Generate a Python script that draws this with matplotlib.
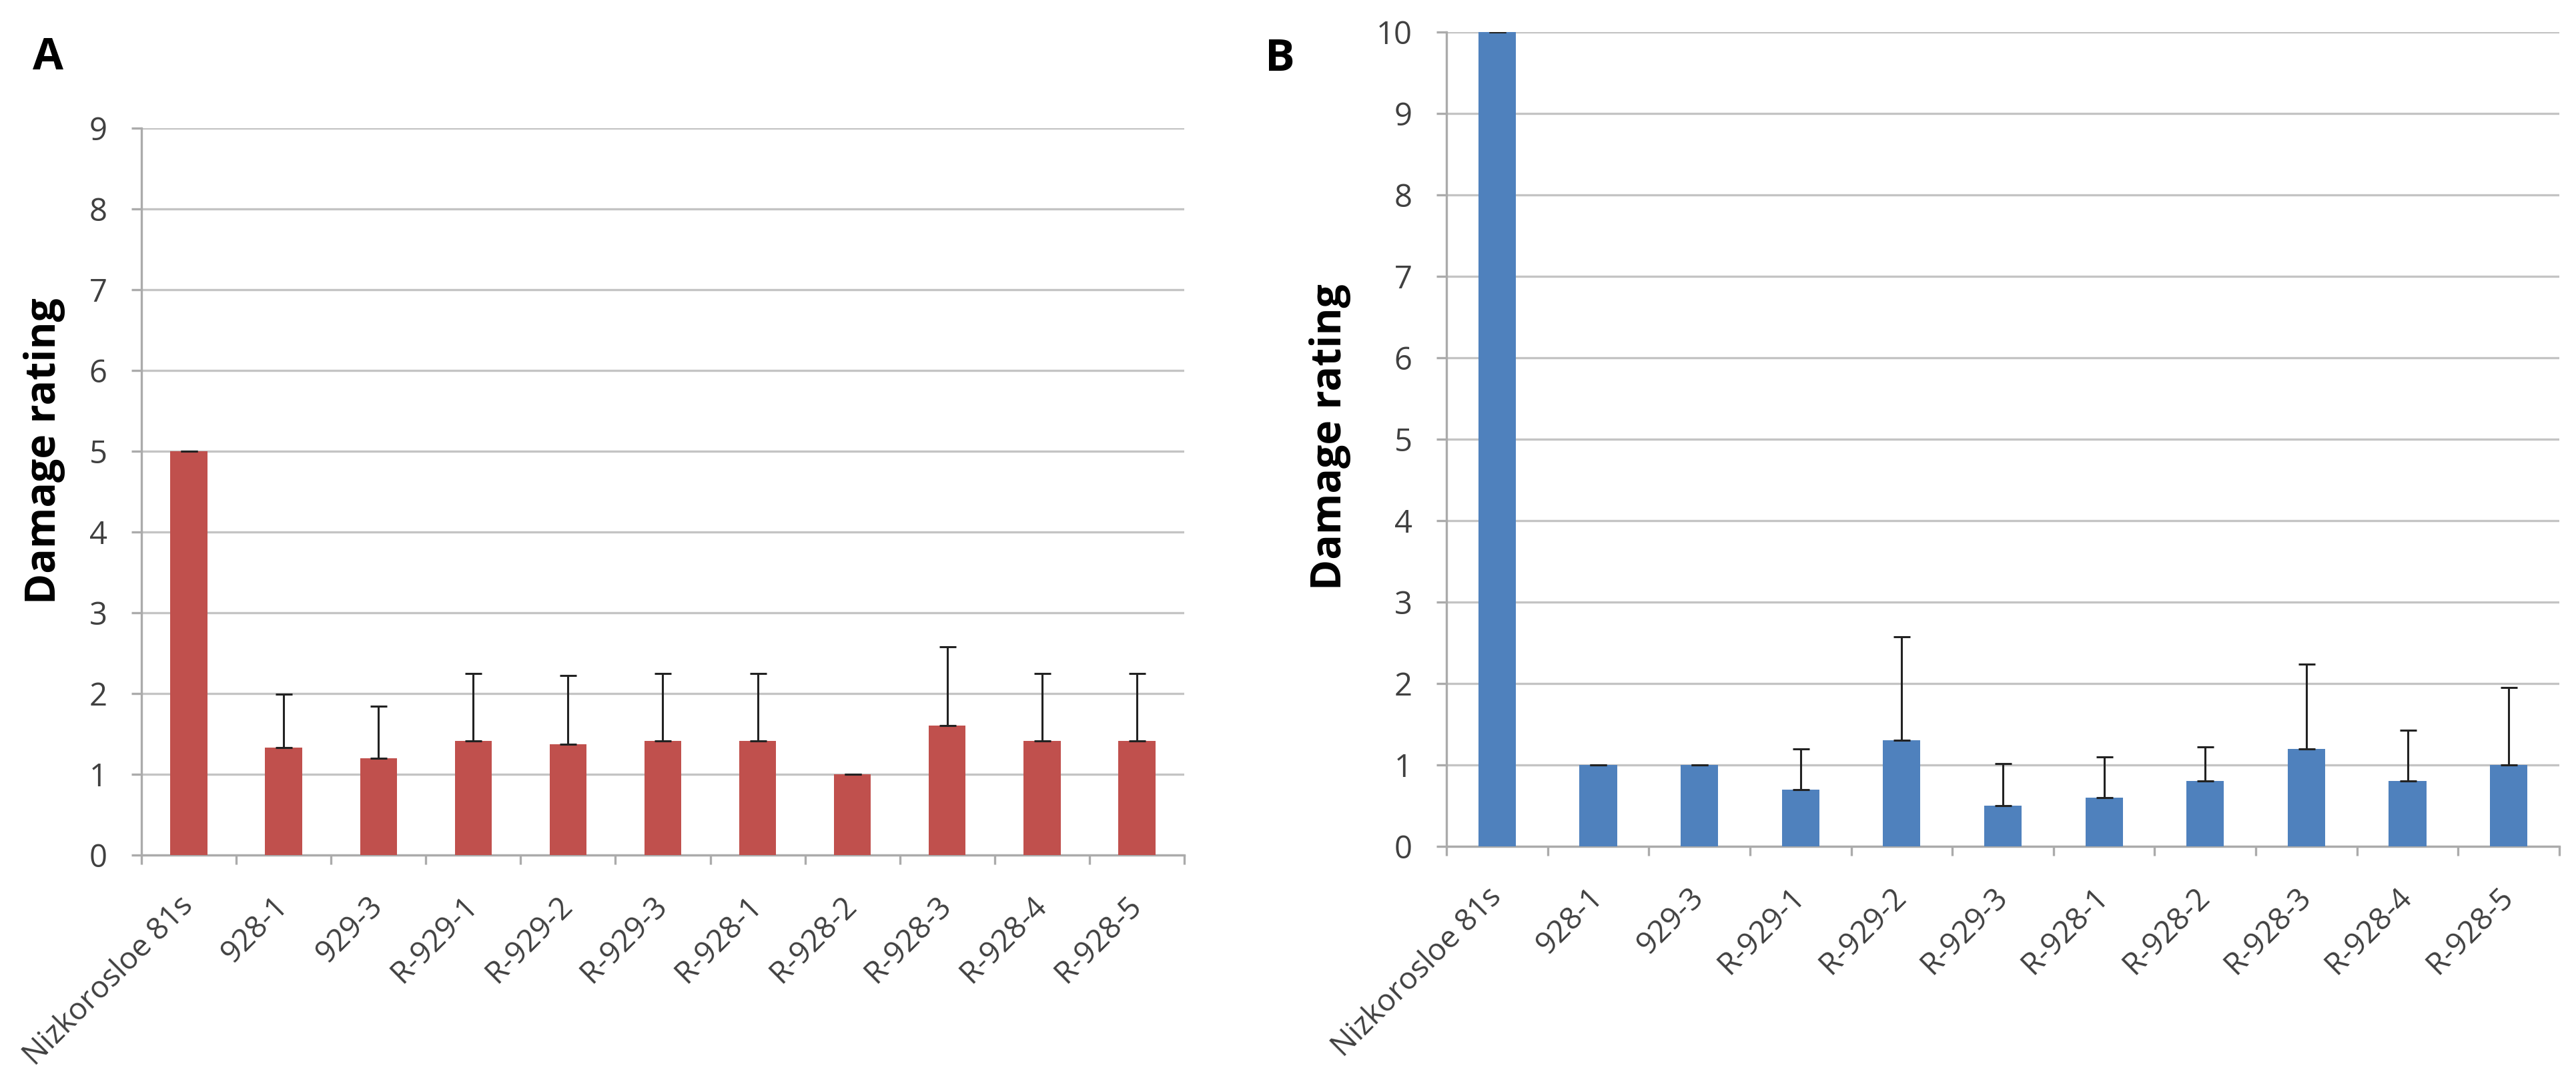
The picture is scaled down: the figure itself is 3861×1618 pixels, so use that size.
import matplotlib
matplotlib.use("Agg")
import matplotlib.pyplot as plt
import numpy as np

categories = ["Nizkorosloe 81s", "928-1", "929-3", "R-929-1", "R-929-2", "R-929-3",
              "R-928-1", "R-928-2", "R-928-3", "R-928-4", "R-928-5"]
values_a = [5.0, 1.33, 1.2, 1.41, 1.37, 1.41, 1.41, 1.0, 1.6, 1.41, 1.41]
err_a = [0.0, 0.66, 0.64, 0.84, 0.85, 0.84, 0.84, 0.0, 0.98, 0.84, 0.84]
values_b = [10.0, 1.0, 1.0, 0.7, 1.3, 0.5, 0.6, 0.8, 1.2, 0.8, 1.0]
err_b = [0.0, 0.0, 0.0, 0.5, 1.27, 0.52, 0.5, 0.42, 1.04, 0.63, 0.95]
yticks_a = list(range(0, 10))
yticks_b = list(range(0, 11))

plt.rcParams['font.family'] = ['Open Sans', 'DejaVu Sans']

W, H = 3862, 1618
fig = plt.figure(figsize=(W / 100, H / 100), dpi=100)

def add_axes(l, r, b, t):
    return fig.add_axes([l / W, 1 - b / H, (r - l) / W, (b - t) / H])

axA = add_axes(212, 1775, 1281, 192)
axB = add_axes(2168, 3836, 1268, 48)

GRID = '#C4C4C4'
AXC = '#ABABAB'

def style(ax, vals, errs, color, yticks, bw, letter, lx, ly, ylab_x, ylab_y):
    x = np.arange(len(categories))
    ax.bar(x, vals, width=bw, color=color, zorder=3)
    ax.errorbar(x, vals, yerr=[np.zeros(len(errs)), errs], fmt='none',
                ecolor='#222222', elinewidth=2.2, capsize=9, capthick=2.2, zorder=4)
    ax.set_xlim(-0.5, len(categories) - 0.5)
    ax.set_ylim(0, yticks[-1])
    ax.set_yticks(yticks)
    ax.yaxis.grid(True, color=GRID, linewidth=2.4, zorder=0)
    ax.set_axisbelow(True)
    for s in ['top', 'right']:
        ax.spines[s].set_visible(False)
    for s in ['left', 'bottom']:
        ax.spines[s].set_color(AXC)
        ax.spines[s].set_linewidth(2.4)
    ax.tick_params(axis='y', labelsize=34, labelcolor='#404040', length=11, width=2.4,
                   color=AXC, direction='out', pad=26)
    ax.set_xticks(x)
    ax.set_xticklabels(categories, rotation=45, ha='right', va='center',
                       rotation_mode='anchor', fontsize=33, color='#404040')
    ax.tick_params(axis='x', length=0, pad=50)
    ax.set_xticks(np.arange(-0.5, len(categories)), minor=True)
    ax.tick_params(axis='x', which='minor', length=10, width=2.4, color=AXC,
                   direction='out')
    ax.set_ylabel("Damage rating", fontsize=45, fontweight='bold')
    ax.yaxis.label.set_verticalalignment('center')
    ax.yaxis.label.set_horizontalalignment('center')
    bb = ax.get_position()
    ax.yaxis.set_label_coords((ylab_x / W - bb.x0) / bb.width,
                              ((1 - ylab_y / H) - bb.y0) / bb.height)
    fig.text(lx / W, 1 - ly / H, letter, fontsize=48, fontweight='bold',
             ha='center', va='center')

style(axA, values_a, err_a, '#C0504D', yticks_a, 0.39, 'A', 72, 86, 67, 676)
style(axB, values_b, err_b, '#4F81BD', yticks_b, 0.37, 'B', 1918, 88, 1994, 655)

fig.savefig("out.png", dpi=100, facecolor='white')
